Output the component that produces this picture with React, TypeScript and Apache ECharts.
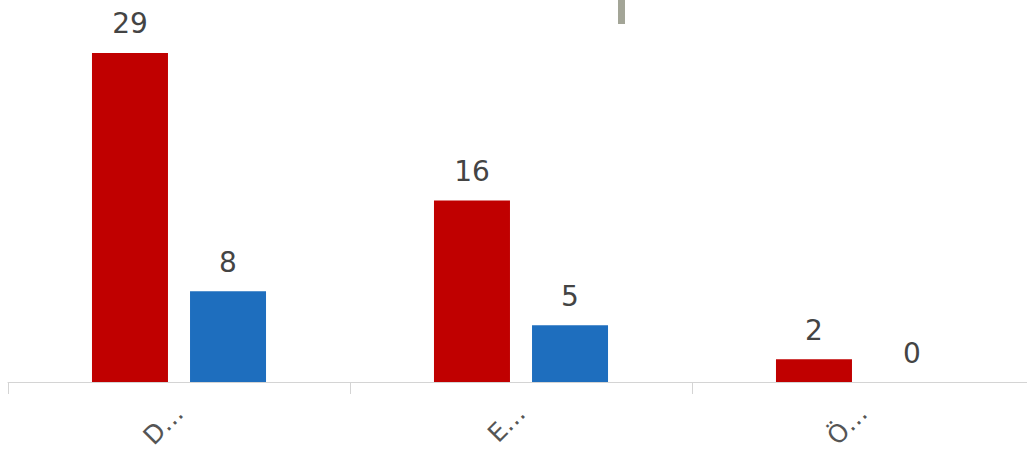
import React, { useEffect, useRef } from "react";
import * as echarts from "echarts";

const categories = ["D…", "E…", "Ö…"];
const seriesA = [29, 16, 2];
const seriesB = [8, 5, 0];

export default function App() {
  const ref = useRef<HTMLDivElement>(null);
  useEffect(() => {
    const chart = echarts.init(ref.current!, null, { renderer: "svg" });
    const valueLabel = {
      show: true,
      position: "top",
      distance: 15,
      fontSize: 28,
      color: "#444444",
      fontFamily: "DejaVu Sans",
    };
    chart.setOption({
      animation: false,
      backgroundColor: "#ffffff",
      graphic: [
        { type: "rect", shape: { x: 618, y: 0, width: 7, height: 24 }, style: { fill: "#a3a597" }, z: 0 },
      ],
      grid: { left: 8, top: 41.6, width: 1026, height: 340.4, containLabel: false },
      xAxis: {
        type: "category",
        data: categories,
        axisLine: { show: true, lineStyle: { color: "#d4d4d4", width: 1 } },
        axisTick: { show: true, length: 12, lineStyle: { color: "#d4d4d4" } },
        axisLabel: { rotate: 45, margin: 27, fontSize: 25, color: "#555555", fontFamily: "DejaVu Sans" },
      },
      yAxis: {
        type: "value",
        min: 0,
        max: 30,
        show: false,
        splitLine: { show: false },
      },
      series: [
        {
          type: "bar",
          data: seriesA,
          barWidth: 76,
          barGap: "29%",
          itemStyle: { color: "#c00000" },
          label: valueLabel,
        },
        {
          type: "bar",
          data: seriesB,
          barWidth: 76,
          itemStyle: { color: "#1e6ebe" },
          label: valueLabel,
        },
      ],
    });
    return () => chart.dispose();
  }, []);
  return (
    <div style={{ position: "absolute", left: 0, top: 0, width: 1027, height: 456, overflow: "hidden" }}>
      <div ref={ref} style={{ position: "absolute", left: 0, top: 0, width: 1045, height: 456 }} />
    </div>
  );
}
